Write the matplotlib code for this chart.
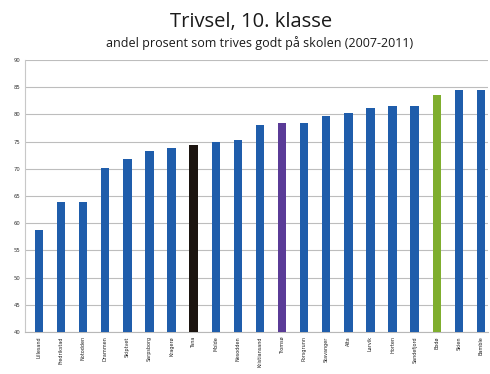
import numpy as np
import matplotlib.pyplot as plt

# Andel elever i 10. klasse som trives godt, per kommune
kommuner = ["Lillesand", "Fredrikstad", "Notodden", "Drammen", "Skiptvet",
            "Sarpsborg", "Kragerø", "Tana", "Molde", "Nesodden",
            "Kristiansand", "Tromsø", "Porsgrunn", "Stavanger", "Alta",
            "Larvik", "Horten", "Sandefjord", "Bodø", "Skien", "Bamble"]
trivsel = [58.8, 63.9, 63.9, 70.1, 71.8, 73.3, 73.8, 74.4, 75.0, 75.2,
           78.1, 78.4, 78.4, 79.7, 80.3, 81.1, 81.5, 81.6, 83.6, 84.4, 84.4]
farger = ["#1f5dab"] * len(kommuner)
farger[7] = "#1c1510"   # Tana
farger[11] = "#5a3b97"  # Tromsø
farger[18] = "#7fae2e"  # Bodø
yticks = [40, 45, 50, 55, 60, 65, 70, 75, 80, 85, 90]

fig = plt.figure(figsize=(4.9, 3.74), dpi=100)
ax = fig.add_axes([0.051, 0.112, 0.945, 0.728])

x = np.arange(len(kommuner))
ax.bar(x, trivsel, width=0.38, color=farger, zorder=3)

ax.set_ylim(40, 90)
ax.set_xlim(-0.63, 20.32)
ax.set_yticks(yticks)
ax.set_yticklabels([str(v) for v in yticks], fontsize=3.8, color="#333333")
ax.set_xticks(x)
ax.set_xticklabels(kommuner, rotation=90, fontsize=3.5, color="#222222")
ax.tick_params(axis="both", length=0, pad=3)
ax.grid(axis="y", color="#bdbdbd", linewidth=0.8, zorder=0)
for side in ["top", "right"]:
    ax.spines[side].set_visible(False)
ax.spines["left"].set_color("#c8c8c8")
ax.spines["bottom"].set_color("#b8b8b8")

fig.text(0.512, 0.941, "Trivsel, 10. klasse", ha="center", va="center",
         fontsize=14.5, color="#1a1a1a", family="Open Sans")
fig.text(0.53, 0.885, "andel prosent som trives godt på skolen (2007-2011)",
         ha="center", va="center", fontsize=9, color="#1a1a1a", family="Open Sans")

fig.savefig("out.png", dpi=100)
